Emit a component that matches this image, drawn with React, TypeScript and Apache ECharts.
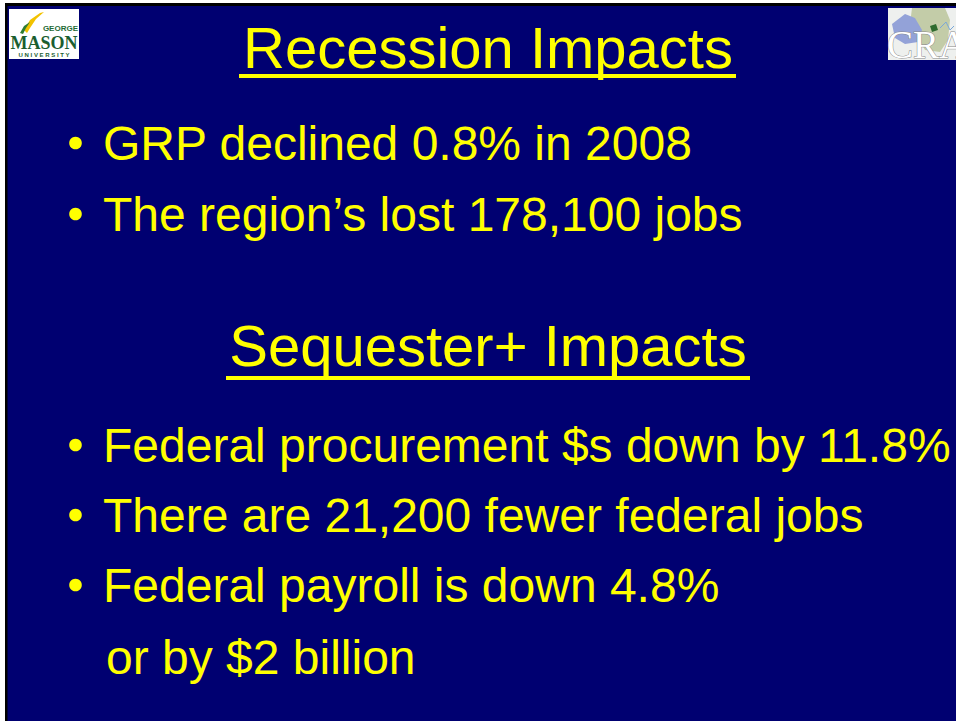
import React, { useEffect, useRef } from "react";
import * as echarts from "echarts";

// ---- slide content ----
const titles = ["Recession Impacts", "Sequester+ Impacts"];
const titleBaselines = [68, 366];
const recessionBullets = ["GRP declined 0.8% in 2008", "The region’s lost 178,100 jobs"];
const recessionBaselines = [160, 231];
const sequesterBullets = [
  "Federal procurement $s down by 11.8%",
  "There are 21,200 fewer federal jobs",
  "Federal payroll is down 4.8%",
];
const sequesterBaselines = [462, 532, 602];
const continuationLines = ["or by $2 billion"];
const continuationBaselines = [674];

const FONT = "'Liberation Sans', Arial, Helvetica, sans-serif";
const SERIF = "'Liberation Serif', 'Times New Roman', serif";
const NAVY = "#000071";
const YELLOW = "#ffff00";
const W = 956;
const H = 721;

const TITLE_SIZE = 58;
const BODY_SIZE = 48;
const CENTRAL = 0.3465;

function titleEls(): any[] {
  const els: any[] = [];
  const underline = [
    { x1: 239, x2: 736, y: 74 },
    { x1: 226, x2: 750, y: 376 },
  ];
  titles.forEach((t, i) => {
    els.push({
      type: "text",
      x: 488,
      y: titleBaselines[i] - CENTRAL * TITLE_SIZE,
      style: {
        text: t,
        fill: YELLOW,
        font: `${TITLE_SIZE}px ${FONT}`,
        align: "center",
        verticalAlign: "middle",
      },
    });
    els.push({
      type: "rect",
      shape: { x: underline[i].x1, y: underline[i].y, width: underline[i].x2 - underline[i].x1, height: 4 },
      style: { fill: YELLOW },
    });
  });
  return els;
}

function bulletEls(lines: string[], baselines: number[]): any[] {
  const els: any[] = [];
  lines.forEach((t, i) => {
    els.push({
      type: "circle",
      shape: { cx: 75.5, cy: baselines[i] - 17, r: 6.3 },
      style: { fill: YELLOW },
    });
    els.push({
      type: "text",
      x: 103,
      y: baselines[i] - CENTRAL * BODY_SIZE,
      style: {
        text: t,
        fill: YELLOW,
        font: `${BODY_SIZE}px ${FONT}`,
        align: "left",
        verticalAlign: "middle",
      },
    });
  });
  return els;
}

function plainEls(lines: string[], baselines: number[]): any[] {
  return lines.map((t, i) => ({
    type: "text",
    x: 106,
    y: baselines[i] - CENTRAL * BODY_SIZE,
    style: {
      text: t,
      fill: YELLOW,
      font: `${BODY_SIZE}px ${FONT}`,
      align: "left",
      verticalAlign: "middle",
    },
  }));
}

function masonLogo(): any[] {
  return [
    { type: "rect", shape: { x: 9, y: 9, width: 70, height: 50 }, style: { fill: "#ffffff" } },
    // swoosh
    {
      type: "polygon",
      shape: { points: [[24, 30], [30, 20], [40, 13], [44, 12], [36, 19], [30, 28], [27, 33]] },
      style: { fill: "#f2c200" },
    },
    {
      type: "polygon",
      shape: { points: [[20, 33], [24, 26], [30, 22], [26, 28], [23, 34]] },
      style: { fill: "#2e7d32" },
    },
    {
      type: "text",
      x: 78,
      y: 28,
      style: { text: "GEORGE", fill: "#1f6b35", font: `bold 8px ${FONT}`, align: "right", verticalAlign: "middle" },
    },
    {
      type: "text",
      x: 44,
      y: 43,
      style: { text: "MASON", fill: "#1b5e2f", font: `bold 18px ${SERIF}`, align: "center", verticalAlign: "middle" },
    },
    {
      type: "text",
      x: 44,
      y: 55,
      style: { text: "U N I V E R S I T Y", fill: "#1b5e2f", font: `bold 6px ${FONT}`, align: "center", verticalAlign: "middle" },
    },
  ];
}

function craLogo(): any[] {
  return [
    { type: "rect", shape: { x: 888, y: 8, width: 68, height: 52 }, style: { fill: "#eef0ee" } },
    {
      type: "polygon",
      shape: { points: [[912, 8], [945, 8], [950, 20], [948, 40], [940, 52], [925, 50], [918, 38], [910, 24]] },
      style: { fill: "#c3cca8" },
    },
    {
      type: "polygon",
      shape: { points: [[892, 24], [905, 14], [915, 18], [922, 30], [918, 42], [905, 44], [895, 38]] },
      style: { fill: "#93a2d8" },
    },
    {
      type: "polygon",
      shape: { points: [[930, 26], [936, 24], [938, 30], [932, 32]] },
      style: { fill: "#2f6b2f" },
    },
    {
      type: "polyline",
      shape: { points: [[940, 28], [946, 22], [950, 30], [954, 26]] },
      style: { stroke: "#7aa7d8", lineWidth: 1, fill: "none" },
    },
    {
      type: "text",
      x: 887,
      y: 58 - CENTRAL * 39,
      style: {
        text: "CRA",
        fill: "#ffffff",
        stroke: "#8a8a8a",
        lineWidth: 1,
        font: `39px ${SERIF}`,
        align: "left",
        verticalAlign: "middle",
      },
    },
  ];
}

export default function App() {
  const ref = useRef<HTMLDivElement>(null);
  useEffect(() => {
    document.body.style.margin = "0";
    if (!ref.current) return;
    const chart = echarts.init(ref.current, undefined, { renderer: "svg" });
    chart.setOption({
      animation: false,
      backgroundColor: "#ffffff",
      graphic: [
        { type: "rect", shape: { x: 5, y: 3, width: W - 5, height: H - 3 }, style: { fill: "#000000" } },
        { type: "rect", shape: { x: 7.5, y: 6, width: W - 7.5, height: H - 6 }, style: { fill: NAVY } },
        ...masonLogo(),
        ...craLogo(),
        ...titleEls(),
        ...bulletEls(recessionBullets, recessionBaselines),
        ...bulletEls(sequesterBullets, sequesterBaselines),
        ...plainEls(continuationLines, continuationBaselines),
      ],
    });
    return () => chart.dispose();
  }, []);
  return <div ref={ref} style={{ width: W, height: H }} />;
}
